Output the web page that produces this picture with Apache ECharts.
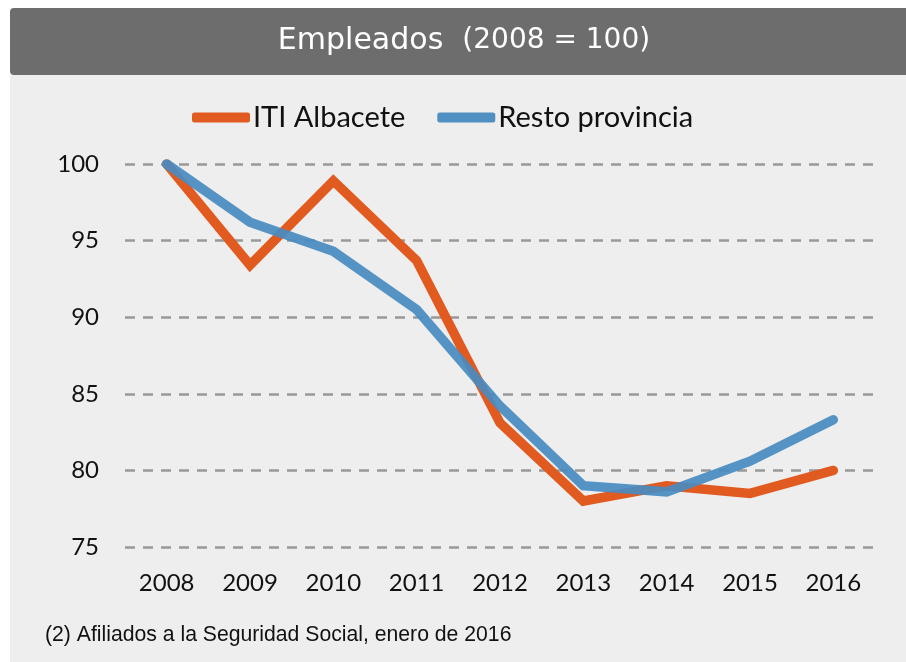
<!DOCTYPE html>
<html>
<head>
<meta charset="utf-8">
<script src="https://cdn.jsdelivr.net/npm/echarts@6/dist/echarts.min.js"></script>
<style>
  html, body { margin: 0; padding: 0; background: #ffffff; }
  #chart { width: 906px; height: 662px; }
</style>
</head>
<body>
<div id="chart"></div>
<script>
// Employment index, 2008 = 100
const years = ['2008', '2009', '2010', '2011', '2012', '2013', '2014', '2015', '2016'];
const itiAlbacete = [100, 93.4, 98.9, 93.7, 83.1, 78.0, 79.0, 78.5, 80.0];
const restoProvincia = [100, 96.2, 94.3, 90.5, 84.2, 79.0, 78.6, 80.6, 83.3];
const seriesNames = ['ITI Albacete', 'Resto provincia'];
const yTicks = { min: 75, max: 100, interval: 5 };

const chart = echarts.init(document.getElementById('chart'), null, { renderer: 'canvas' });

chart.setOption({
  backgroundColor: '#ffffff',
  animation: false,
  graphic: [
    // light panel behind the plot
    { type: 'rect', z: -10, shape: { x: 10, y: 75, width: 896, height: 587 }, style: { fill: '#eeeeee' } },
    // dark header bar
    { type: 'rect', z: -10, shape: { x: 10, y: 8, width: 896, height: 67, r: [4, 0, 0, 4] }, style: { fill: '#6d6d6d' } },
    {
      type: 'text', x: 464, y: 41,
      style: {
        align: 'center', verticalAlign: 'middle',
        rich: {
          a: { fontFamily: 'DejaVu Sans', fontSize: 30, fill: '#ffffff' },
          g: { fontFamily: 'DejaVu Sans', fontSize: 30, fill: '#ffffff' },
          b: { fontFamily: 'DejaVu Sans', fontSize: 28, fill: '#ffffff' }
        },
        text: '{a|Empleados}{g|  }{b|(2008 = 100)}'
      }
    },
    {
      type: 'text', x: 45, y: 635,
      style: { text: '(2) Afiliados a la Seguridad Social, enero de 2016', verticalAlign: 'middle', fontFamily: 'Liberation Sans', fontSize: 21.2, fill: '#111111' }
    }
  ],
  legend: {
    data: seriesNames,
    top: 98,
    left: 187,
    itemWidth: 58,
    itemHeight: 10,
    itemGap: 32,
    icon: 'roundRect',
    textStyle: { fontFamily: 'Lato', fontSize: 29, color: '#111111', padding: [0, 0, 0, -2] }
  },
  grid: { left: 125, right: 31, top: 164, bottom: 115, containLabel: false },
  xAxis: {
    type: 'category',
    data: years,
    boundaryGap: true,
    axisLine: { show: false },
    axisTick: { show: false },
    axisLabel: { fontFamily: 'Lato', fontSize: 24, color: '#111111', margin: 24 }
  },
  yAxis: {
    type: 'value',
    min: yTicks.min,
    max: yTicks.max,
    interval: yTicks.interval,
    axisLine: { show: false },
    axisTick: { show: false },
    axisLabel: { fontFamily: 'Lato', fontSize: 24, color: '#111111', margin: 26 },
    splitLine: { lineStyle: { color: '#999999', width: 2.5, type: [10, 8] } }
  },
  series: [
    {
      name: seriesNames[0], type: 'line', data: itiAlbacete,
      symbol: 'none', color: '#e15b20',
      lineStyle: { width: 9.5, color: '#e15b20', cap: 'round', join: 'miter' }
    },
    {
      name: seriesNames[1], type: 'line', data: restoProvincia,
      symbol: 'none', color: '#4f8fc2',
      lineStyle: { width: 9.5, color: 'rgba(72,139,193,0.92)', cap: 'round', join: 'miter' }
    }
  ]
});
</script>
</body>
</html>
